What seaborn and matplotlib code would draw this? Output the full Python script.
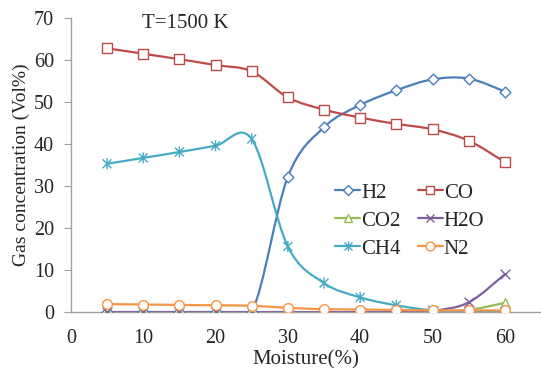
import numpy as np
import pandas as pd
import seaborn as sns
import matplotlib
matplotlib.use("Agg")
import matplotlib.pyplot as plt
from matplotlib.path import Path
from matplotlib.patches import PathPatch
from matplotlib.lines import Line2D

moisture = [5, 10, 15, 20, 25, 30, 35, 40, 45, 50, 55, 60]
h2 = [0, 0, 0, 0, 0, 32.2, 44.0, 49.3, 52.8, 55.4, 55.6, 52.5]
co = [62.8, 61.5, 60.2, 58.8, 57.3, 51.1, 48.2, 46.3, 44.8, 43.5, 40.8, 35.7]
co2 = [0, 0, 0, 0, 0, 0, 0, 0, 0, 0.1, 0.5, 2.2]
h2o = [0, 0, 0, 0, 0, 0, 0, 0, 0, 0.3, 2.3, 9.0]
ch4 = [35.3, 36.7, 38.1, 39.6, 41.2, 15.6, 6.9, 3.5, 1.6, 0.4, 0.1, 0.0]
n2 = [1.9, 1.8, 1.7, 1.6, 1.5, 1.0, 0.7, 0.6, 0.5, 0.4, 0.4, 0.4]

series = ["H2", "CO", "CO2", "H2O", "CH4", "N2"]
values = [h2, co, co2, h2o, ch4, n2]
colors = ["#4A7EBB", "#BE4B48", "#98B954", "#7D5FA0", "#46AAC5", "#F59646"]

asterisk = Path([(0, -1), (0, 1), (-0.8, -0.8), (0.8, 0.8), (-0.8, 0.8), (0.8, -0.8)],
                [Path.MOVETO, Path.LINETO] * 3)
markers = ["D", "s", "^", "x", asterisk, "o"]
msizes = [5.5, 7, 7, 7, 8, 7]
faces = ["white", "white", "white", "line", "none", "white"]

sns.set_style("white")
plt.rcParams['font.family'] = ['Liberation Serif', 'DejaVu Serif']

df = pd.DataFrame({"Moisture": moisture})
for s, v in zip(series, values):
    df[s] = v

fig = plt.figure(figsize=(5.41, 3.68), dpi=100)
ax = fig.add_axes([0.131, 0.152, 0.869, 0.799])


def smooth_path(x, y):
    x = np.asarray(x, float)
    y = np.asarray(y, float)
    pts = np.column_stack([x, y])
    n = len(pts)
    verts = [pts[0]]
    codes = [Path.MOVETO]
    for i in range(n - 1):
        p0 = pts[i - 1] if i > 0 else pts[i]
        p1 = pts[i]
        p2 = pts[i + 1]
        p3 = pts[i + 2] if i + 2 < n else pts[i + 1]
        c1 = p1 + (p2 - p0) / 6.0
        c2 = p2 - (p3 - p1) / 6.0
        verts += [c1, c2, p2]
        codes += [Path.CURVE4] * 3
    return Path(verts, codes)


handles = {}
for s, c, m, ms, fc in zip(series, colors, markers, msizes, faces):
    ax.add_patch(PathPatch(smooth_path(df["Moisture"], df[s]), facecolor="none",
                           edgecolor=c, lw=1.6, zorder=2))
    if fc == "line":
        sns.scatterplot(data=df, x="Moisture", y=s, ax=ax, marker=m,
                        s=ms ** 2, color=c, linewidth=1.0, zorder=3, legend=False)
    else:
        sns.scatterplot(data=df, x="Moisture", y=s, ax=ax, marker=m,
                        s=ms ** 2, facecolor=fc, edgecolor=c,
                        linewidth=1.0, zorder=3, legend=False)
    handles[s] = Line2D([], [], color=c, lw=1.6, marker=m, markersize=ms * 0.9,
                        markerfacecolor="white", markeredgecolor=c, markeredgewidth=1.0)

ax.set_xlim(0, 65)
ax.set_ylim(0, 70)
ax.set_xticks([0, 10, 20, 30, 40, 50, 60])
ax.set_yticks(range(0, 71, 10))
ax.tick_params(axis="y", which="both", left=True, length=5, color="#A0A0A0",
               labelsize=14.5, pad=7)
ax.tick_params(axis="x", bottom=False, labelsize=14.5, pad=9)
for side in ["top", "right"]:
    ax.spines[side].set_visible(False)
for side in ["left", "bottom"]:
    ax.spines[side].set_color("#A0A0A0")
    ax.spines[side].set_linewidth(1.0)

ax.set_xlabel("Moisture(%)", fontsize=15, labelpad=1)
ax.set_ylabel("Gas concentration (Vol%)", fontsize=14, labelpad=3)

ax.text(0.151, 0.98, "T=1500 K", transform=ax.transAxes, fontsize=15,
        va="center", ha="left")

order = ["H2", "CO2", "CH4", "CO", "H2O", "N2"]
ax.legend([handles[k] for k in order], order, ncol=2, loc="center left",
          bbox_to_anchor=(0.545, 0.31), frameon=False, fontsize=15,
          handlelength=1.2, handletextpad=0.05, columnspacing=0.8,
          labelspacing=0.4, borderaxespad=0)

fig.savefig("out.png", dpi=100)
